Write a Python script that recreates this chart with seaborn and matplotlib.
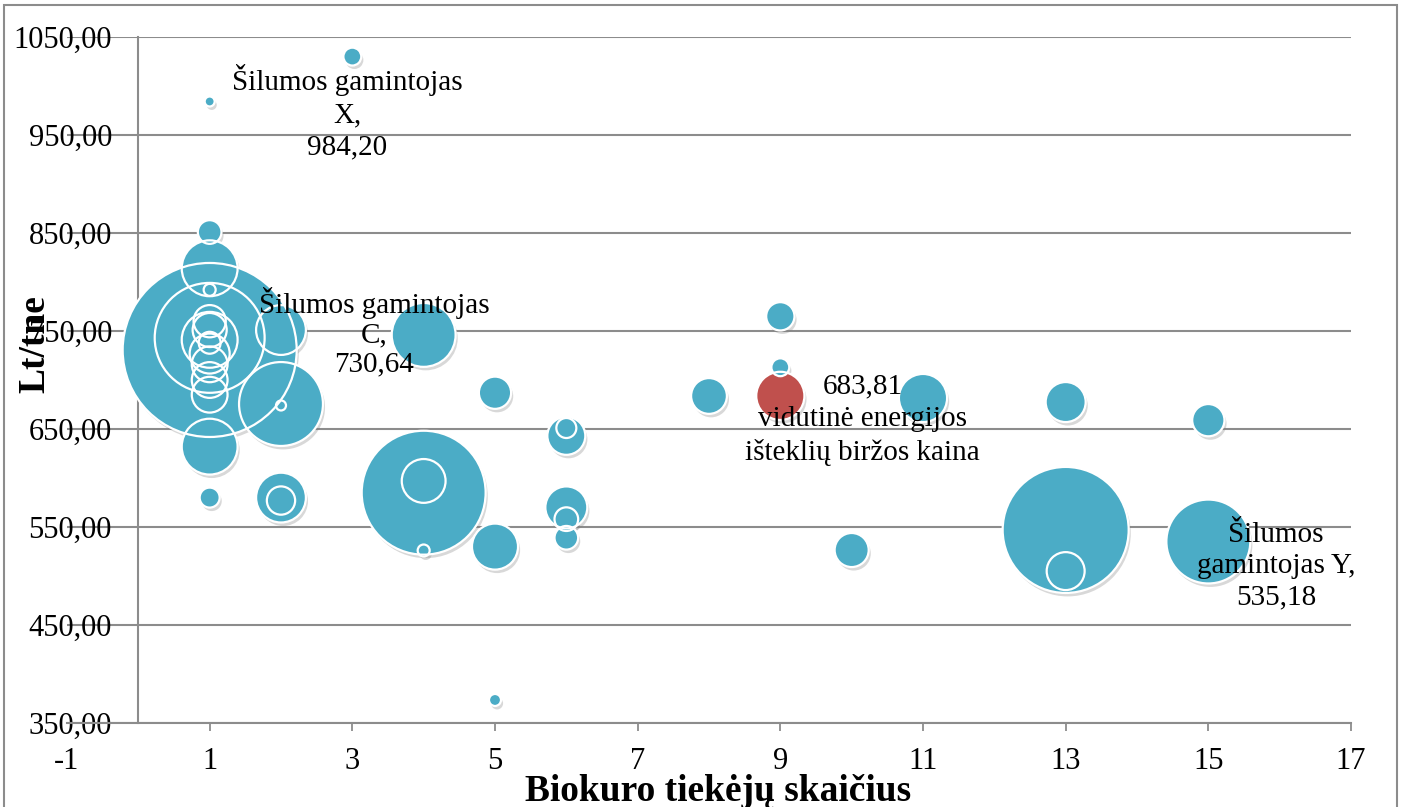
import pandas as pd
import matplotlib
matplotlib.use("Agg")
import matplotlib.pyplot as plt
import matplotlib.patheffects as pe
from matplotlib.ticker import FuncFormatter
from matplotlib.patches import Rectangle
import seaborn as sns

# Biokuro tiekėjų skaičius, kaina (Lt/tne), kiekis (burbulo dydis)
tiekejai = [1, 1, 1, 1, 1, 1, 1, 1, 1, 1, 1, 1, 1, 1, 1, 1,
            2, 2, 2, 2, 2,
            3,
            4, 4, 4, 4,
            5, 5, 5,
            6, 6, 6, 6, 6,
            8,
            9, 9, 9,
            10,
            11,
            13, 13, 13,
            15, 15]
kaina = [984.20, 851, 814, 792, 760, 751, 743, 741, 738, 730.64, 727, 716, 700, 685, 632, 580,
         751, 675.5, 674, 580, 577,
         1030,
         746, 585, 597, 526,
         687, 530, 373.5,
         643, 651, 570, 558, 539,
         683.7,
         765, 713, 683.81,
         526.5,
         681.6,
         677.5, 547, 505,
         659, 535.18]
kiekis = [2.5, 14, 78, 3.6, 26, 29, 302, 78, 12, 757, 40, 32, 32, 32, 78, 10,
          62, 176, 2.5, 62, 20,
          8,
          102, 384, 48, 3.6,
          26, 53, 3.6,
          36, 10, 44, 14, 14,
          32,
          20, 8, 58,
          29,
          58,
          40, 397, 36,
          26, 176]
tipas = ["birža" if k == 683.81 else "gamintojas" for k in kaina]

x_ticks = [-1, 1, 3, 5, 7, 9, 11, 13, 15, 17]
y_ticks = [350, 450, 550, 650, 750, 850, 950, 1050]

df = pd.DataFrame({"tiekejai": tiekejai, "kaina": kaina, "kiekis": kiekis, "tipas": tipas})
df = df.sort_values("kiekis", ascending=False)

sns.set_style("white")
plt.rcParams["font.family"] = ["Liberation Serif", "DejaVu Serif"]
plt.rcParams["axes.unicode_minus"] = False
plt.rcParams["text.color"] = "black"

fig = plt.figure(figsize=(14.02, 8.07), dpi=100)
ax = fig.add_axes([67 / 1402, 1 - 723 / 807, 1284 / 1402, 686 / 807])

palette = {"gamintojas": "#4BACC6", "birža": "#C0504D"}
gray = "#8c8c8c"

# fills with a soft shadow
sns.scatterplot(data=df, x="tiekejai", y="kaina", hue="tipas", palette=palette,
                size="kiekis", sizes=(0, 16589), size_norm=(0, 800),
                linewidth=0, legend=False, ax=ax, zorder=3)
fills = ax.collections[-1]
fills.set_path_effects([pe.SimplePatchShadow(offset=(1.5, -2.5), shadow_rgbFace="#7f7f7f", alpha=0.3),
                        pe.Normal()])

# white outlines on top of all fills
sns.scatterplot(data=df, x="tiekejai", y="kaina", hue="tipas", palette=palette,
                size="kiekis", sizes=(0, 16589), size_norm=(0, 800),
                legend=False, ax=ax, zorder=4)
edges = ax.collections[-1]
edges.set_facecolor("none")
edges.set_edgecolor("white")
edges.set_linewidth(1.6)

ax.set_xlim(-1, 17)
ax.set_ylim(350, 1050)
ax.set_xticks(x_ticks)
ax.set_yticks(y_ticks)
ax.yaxis.set_major_formatter(FuncFormatter(lambda v, p: f"{v:.2f}".replace(".", ",")))
ax.set_xlabel("")
ax.set_ylabel("")

ax.grid(axis="y", color=gray, linewidth=1.5)
ax.grid(axis="x", visible=False)
ax.set_axisbelow(True)
for s in ["top", "right"]:
    ax.spines[s].set_visible(False)
ax.spines["left"].set_position(("data", 0))
ax.spines["left"].set_color(gray)
ax.spines["left"].set_linewidth(1.5)
ax.spines["bottom"].set_color(gray)
ax.spines["bottom"].set_linewidth(1.5)

ax.tick_params(axis="x", length=6, width=1.3, color=gray, labelcolor="black", pad=11,
               labelsize=22, bottom=True)
ax.tick_params(axis="y", length=0, pad=19, labelsize=22, labelcolor="black", left=True)
ax.xaxis.get_major_ticks()[0].tick1line.set_visible(False)

# data labels
ax.text(2.928, 973.5, "Šilumos gamintojas\nX,\n984,20", ha="center", va="center",
        multialignment="center", fontsize=21, linespacing=1.3, zorder=5)
ax.text(3.307, 749, "Šilumos gamintojas\nC,\n730,64", ha="center", va="center",
        multialignment="center", fontsize=21, linespacing=1.17, zorder=5)
ax.text(10.153, 659.2, "683,81\nvidutinė energijos\ništeklių biržos kaina", ha="center", va="center",
        multialignment="center", fontsize=21, linespacing=1.33, zorder=5)
ax.text(15.947, 510.2, "Šilumos\ngamintojas Y,\n535,18", ha="center", va="center",
        multialignment="center", fontsize=21, linespacing=1.27, zorder=5)

# axis titles
fig.text(35 / 1402, 1 - 344 / 807, "Lt/tne", rotation=90, ha="center", va="center",
         fontsize=27, fontweight="bold")
fig.text(718 / 1402, 1 - 801 / 807, "Biokuro tiekėjų skaičius", ha="center", va="baseline",
         fontsize=27, fontweight="bold")

# chart frame
fig.patches.append(Rectangle((4 / 1402, -0.1), 1393 / 1402, 1.1 - 5 / 807, transform=fig.transFigure,
                             fill=False, edgecolor=gray, linewidth=1.5))

fig.savefig("out.png", dpi=100)
